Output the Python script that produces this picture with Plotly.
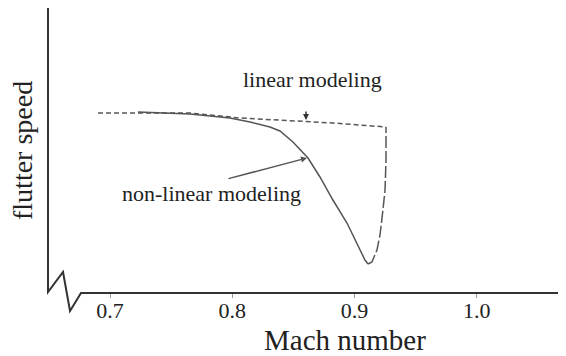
import plotly.graph_objects as go

# Mach numbers and flutter speed (arbitrary units)
nl_mach = [0.7229, 0.7654, 0.7981, 0.8145, 0.8308, 0.8390, 0.8496, 0.8619,
           0.8717, 0.8823, 0.8938, 0.9020, 0.9085, 0.9110]
nl_speed = [1.81, 1.79, 1.75, 1.71, 1.66, 1.62, 1.51, 1.35,
            1.16, 0.93, 0.70, 0.50, 0.33, 0.29]

branch_mach = [0.9110, 0.9142, 0.9183, 0.9208, 0.9232, 0.9249, 0.9257, 0.9257]
branch_speed = [0.29, 0.31, 0.43, 0.58, 0.83, 1.03, 1.33, 1.66]

lin_mach = [0.6902, 0.7654, 0.8063, 0.8554, 0.8823, 0.9257]
lin_speed = [1.80, 1.80, 1.75, 1.72, 1.70, 1.66]

tick_vals = [0.7, 0.8, 0.9, 1.0]
tick_text = ["0.7", "0.8", "0.9", "1.0"]

LINE = "#555555"
FONT = "Liberation Serif"

fig = go.Figure()
fig.add_trace(go.Scatter(x=lin_mach, y=lin_speed, mode="lines",
                         line=dict(color=LINE, width=1.5, dash="5px,3px")))
fig.add_trace(go.Scatter(x=nl_mach, y=nl_speed, mode="lines",
                         line=dict(color=LINE, width=1.5)))
fig.add_trace(go.Scatter(x=branch_mach, y=branch_speed, mode="lines",
                         line=dict(color=LINE, width=1.5, dash="12px,3px")))

# page body has an 8px margin: figure is drawn 8px smaller and coordinates shifted
OFF = 8
W, H = 566 - OFF, 356 - OFF
L, T = 48 - OFF, 8 - OFF
B = H - (293 - OFF)
pw = W - L
ph = H - T - B
def px(x):
    return (x - OFF - L) / pw
def py(y):
    return (H - B - (y - OFF)) / ph
pts = [(48, 8), (48, 292), (63, 272), (70, 311), (81, 293), (566, 293)]
path = "M " + " L ".join(f"{px(a):.4f},{py(b):.4f}" for a, b in pts)
fig.add_shape(type="path", path=path, xref="paper", yref="paper",
              line=dict(color="#333333", width=2), layer="above")

fig.add_annotation(x=0.8652, y=2.14, text="linear modeling", showarrow=False,
                   font=dict(family=FONT, size=22, color="#222"))
fig.add_annotation(x=0.7834, y=1.00, text="non-linear modeling", showarrow=False,
                   font=dict(family=FONT, size=22, color="#222"))
fig.add_annotation(x=0.8603, y=1.73, ax=0, ay=-10, text="", showarrow=True,
                   arrowhead=2, arrowsize=0.8, arrowwidth=1.5, arrowcolor="#333")
fig.add_annotation(x=0.8611, y=1.35, ax=-80, ay=21, text="", showarrow=True,
                   arrowhead=2, arrowsize=0.8, arrowwidth=1.5, arrowcolor="#555")

# axis titles
fig.add_annotation(x=px(345), y=py(340), xref="paper", yref="paper",
                   text="Mach number", showarrow=False,
                   xanchor="center", yanchor="middle",
                   font=dict(family=FONT, size=29, color="#222"))
fig.add_annotation(x=px(22), y=py(151), xref="paper", yref="paper",
                   text="flutter speed", showarrow=False, textangle=-90,
                   xanchor="center", yanchor="middle",
                   font=dict(family=FONT, size=28, color="#222"))

fig.update_layout(
    width=W, height=H,
    margin=dict(l=L, r=0, t=T, b=B, autoexpand=False),
    paper_bgcolor="white", plot_bgcolor="white",
    showlegend=False,
    font=dict(family=FONT, color="#222"),
    xaxis=dict(range=[0.6493, 1.0729], showgrid=False, zeroline=False,
               showline=False, tickvals=tick_vals, ticktext=tick_text,
               ticks="outside", ticklen=4, tickcolor="#999", tickwidth=1,
               ticklabelstandoff=-6, automargin=False,
               tickfont=dict(family=FONT, size=22, color="#222")),
    yaxis=dict(range=[0, 2.85], showgrid=False, zeroline=False, showline=False,
               showticklabels=False, ticks="", automargin=False),
)

fig.write_html("out.html")
